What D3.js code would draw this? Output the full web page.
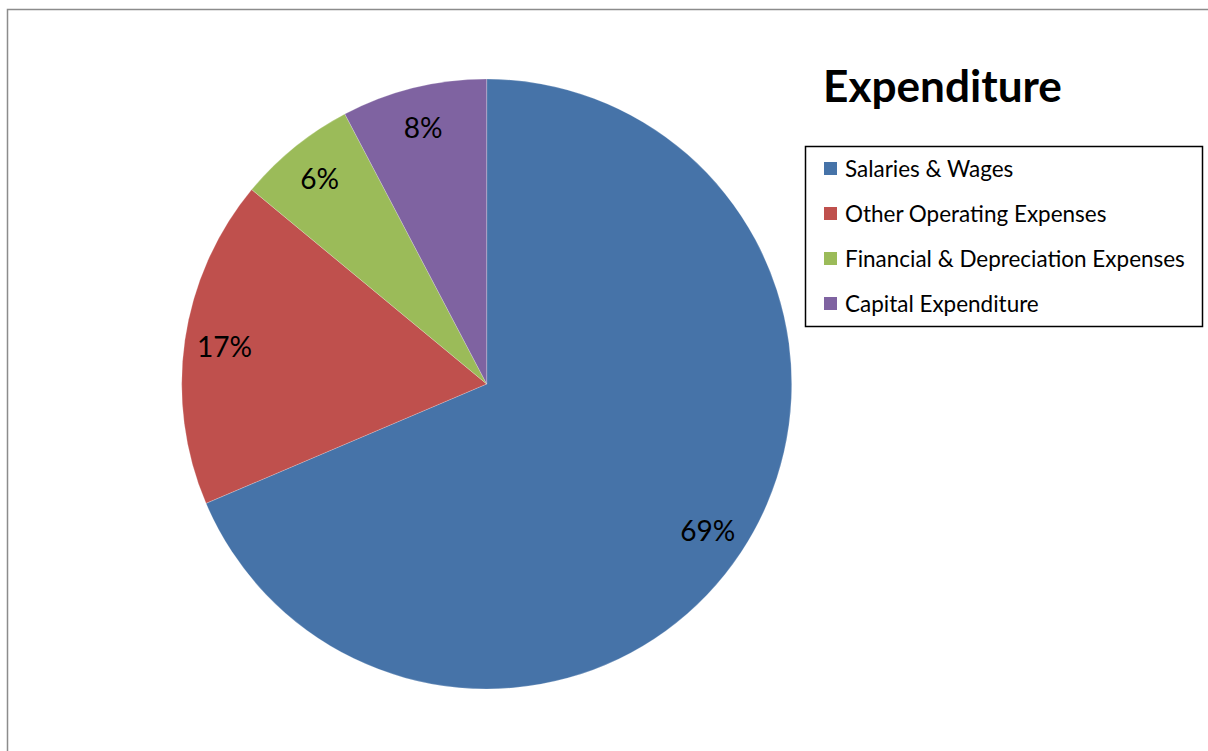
<!DOCTYPE html>
<html><head><meta charset="utf-8">
<script src="https://cdn.jsdelivr.net/npm/d3@7"></script>
<style>html,body{margin:0;padding:0;background:#fff;overflow:hidden}svg{display:block}</style>
</head><body>
<svg id="chart" width="1208" height="751"></svg>
<script>
const categories = ["Salaries & Wages", "Other Operating Expenses", "Financial & Depreciation Expenses", "Capital Expenditure"];
const values = [68.6, 17.4, 6.3, 7.7];
const labels = ["69%", "17%", "6%", "8%"];
const colors = ["#4673A8", "#BF504D", "#9BBB59", "#7F63A1"];
const title = "Expenditure";

const FONT = "Lato, 'Open Sans', sans-serif";
const svg = d3.select("#chart");

// outer chart frame
svg.append("rect").attr("x", 7.5).attr("y", 9.5).attr("width", 1220).attr("height", 760)
  .attr("fill", "#fff").attr("stroke", "#8c8c8c").attr("stroke-width", 1.5);

function fit(sel, target) {
  const fs = parseFloat(sel.attr("font-size"));
  const w = sel.node().getComputedTextLength();
  sel.attr("font-size", fs * target / w);
}

const cx = 486.7, cy = 384, R = 305;
const pie = d3.pie().sort(null).value(d => d);
const arcs = pie(values);
const arc = d3.arc().innerRadius(0).outerRadius(R);
const labelArc = d3.arc().innerRadius(265).outerRadius(265);
const color = d3.scaleOrdinal().domain(categories).range(colors);

const g = svg.append("g").attr("transform", `translate(${cx},${cy})`);
g.selectAll("path").data(arcs).join("path")
  .attr("d", arc).attr("fill", (d, i) => color(categories[i]))
  .attr("stroke", "rgba(255,255,255,0.35)").attr("stroke-width", 0.6);

g.selectAll("text").data(arcs).join("text")
  .attr("transform", d => `translate(${labelArc.centroid(d)})`)
  .attr("text-anchor", "middle").attr("dominant-baseline", "central")
  .attr("font-family", FONT).attr("font-size", 25).attr("fill", "#000")
  .text((d, i) => labels[i]);

// title
const t = svg.append("text").attr("x", 823).attr("y", 102)
  .attr("font-family", FONT).attr("font-weight", "bold").attr("font-size", 40)
  .attr("fill", "#000").text(title);
fit(t, 239);

// legend
svg.append("rect").attr("x", 805.5).attr("y", 146.5).attr("width", 397).attr("height", 180)
  .attr("fill", "#fff").attr("stroke", "#000").attr("stroke-width", 1.5);
const lg = svg.append("g");
const rows = lg.selectAll("g").data(categories).join("g")
  .attr("transform", (d, i) => `translate(824,${168.5 + i * 45})`);
rows.append("rect").attr("x", 0).attr("y", -6.5).attr("width", 13).attr("height", 13)
  .attr("fill", d => color(d));
const lt = rows.append("text").attr("x", 21).attr("y", 0).attr("dominant-baseline", "central")
  .attr("font-family", FONT).attr("font-size", 21).attr("fill", "#000").text(d => d);
// scale legend font to match reference width of longest entry
const longest = lt.filter((d, i) => i === 2);
const w = longest.node().getComputedTextLength();
const fs = 21 * 340 / w;
lt.attr("font-size", fs);
g.selectAll("text").attr("font-size", fs * 1.25);
</script>
</body></html>
